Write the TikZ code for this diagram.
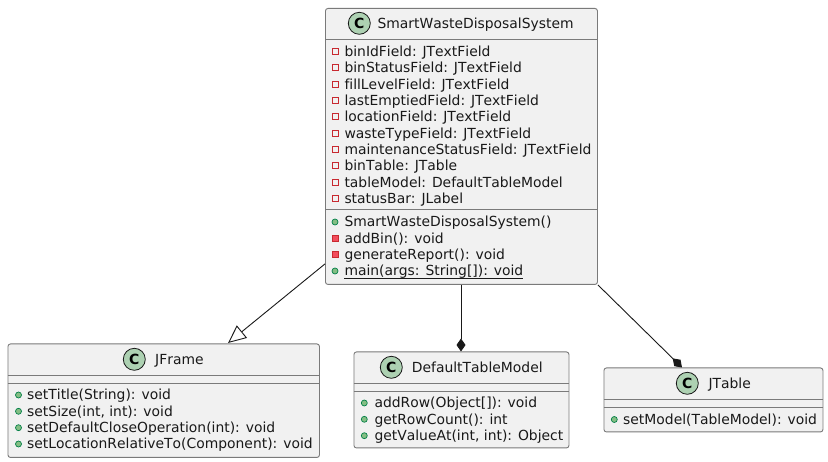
\documentclass[tikz,border=0pt]{standalone}
\usepackage{fontspec}
\setmainfont[Ligatures=NoCommon,Kerning=Off]{DejaVu Sans}
\usetikzlibrary{arrows.meta,calc}
\definecolor{boxfill}{HTML}{F1F1F1}
\definecolor{boxline}{HTML}{7A7A7A}
\definecolor{spotfill}{HTML}{ADD1B2}
\definecolor{pubfill}{HTML}{84BE84}
\definecolor{publine}{HTML}{038048}
\definecolor{privfill}{HTML}{F24D5C}
\definecolor{privline}{HTML}{C82930}
\tikzset{
  classbox/.style={draw=boxline,fill=boxfill,line width=0.9pt,rounded corners=2.5pt,inner sep=0pt,anchor=north west},
  sepline/.style={draw=boxline,line width=0.9pt},
  spot/.style={circle,draw=black!90,fill=spotfill,line width=0.8pt,minimum size=22pt,inner sep=0pt,font=\fontsize{14}{14}\selectfont\bfseries},
  titletext/.style={anchor=base west,inner sep=0pt,font=\fontsize{13.9}{16}\selectfont,text=black!90},
  membertext/.style={anchor=base west,inner sep=0pt,font=\fontsize{13.9}{16}\selectfont,text=black!90},
  pubmark/.style={circle,draw=publine,fill=pubfill,line width=0.7pt,minimum size=6pt,inner sep=0pt},
  fieldmark/.style={rectangle,draw=privline,fill=boxfill,line width=0.8pt,minimum size=6pt,inner sep=0pt},
  methodmark/.style={rectangle,draw=privline,fill=privfill,line width=0.8pt,minimum size=6pt,inner sep=0pt},
  conn/.style={draw=black!90,line width=0.9pt},
  inherit/.style={conn,-{Triangle[open,length=18pt,width=16pt,fill=white]}},
  compose/.style={conn,-{Diamond[fill=black!90,length=13pt,width=9pt]}}
}
% name, marker style, marker x, text x, baseline y, text
\newcommand{\memberrow}[6]{%
  \node[#2] (#1mark) at (#3,#5-5) {};
  \node[membertext] (#1) at (#4,#5) {#6};
}
\begin{document}
\begin{tikzpicture}[x=1pt,y=-1pt]
\useasboundingbox (0,0) rectangle (828,462);
\fill[white] (0,0) rectangle (828,462);

% SmartWasteDisposalSystem
\node[classbox,minimum width=272pt,minimum height=276pt] (swds) at (325,8) {};
\draw[sepline] (325,39.5) -- (597,39.5);
\draw[sepline] (325,209.5) -- (597,209.5);
\node[spot] (swdsC) at (359.3,23.3) {C};
\node[titletext] (swdsT) at (377.3,28.3) {SmartWasteDisposalSystem};
\memberrow{fa}{fieldmark}{335}{344.3}{56.5}{binIdField: JTextField}
\memberrow{fb}{fieldmark}{335}{344.3}{72.8}{binStatusField: JTextField}
\memberrow{fc}{fieldmark}{335}{344.3}{89.2}{fillLevelField: JTextField}
\memberrow{fd}{fieldmark}{335}{344.3}{105.5}{lastEmptiedField: JTextField}
\memberrow{fe}{fieldmark}{335}{344.3}{121.8}{locationField: JTextField}
\memberrow{ff}{fieldmark}{335}{344.3}{138.2}{wasteTypeField: JTextField}
\memberrow{fg}{fieldmark}{335}{344.3}{154.5}{maintenanceStatusField: JTextField}
\memberrow{fh}{fieldmark}{335}{344.3}{170.8}{binTable: JTable}
\memberrow{fi}{fieldmark}{335}{344.3}{187.2}{tableModel: DefaultTableModel}
\memberrow{fj}{fieldmark}{335}{344.3}{203.5}{statusBar: JLabel}
\memberrow{ma}{pubmark}{335}{344.3}{227}{SmartWasteDisposalSystem()}
\memberrow{mb}{methodmark}{335}{344.3}{243.3}{addBin(): void}
\memberrow{mc}{methodmark}{335}{344.3}{259.7}{generateReport(): void}
\memberrow{md}{pubmark}{335}{344.3}{276}{main(args: String[]): void}
\draw[black!90,line width=0.9pt] ($(md.base west)+(0,2.2)$) -- ($(md.base east)+(0,2.2)$);

% JFrame
\node[classbox,minimum width=311.5pt,minimum height=113.5pt] (jframe) at (7.5,343.5) {};
\draw[sepline] (7.5,375) -- (319,375);
\draw[sepline] (7.5,383) -- (319,383);
\node[spot] (jframeC) at (134.3,359.3) {C};
\node[titletext] (jframeT) at (155,364.7) {JFrame};
\memberrow{ja}{pubmark}{18.5}{27}{400}{setTitle(String): void}
\memberrow{jb}{pubmark}{18.5}{27}{416.3}{setSize(int, int): void}
\memberrow{jc}{pubmark}{18.5}{27}{432.7}{setDefaultCloseOperation(int): void}
\memberrow{jd}{pubmark}{18.5}{27}{449}{setLocationRelativeTo(Component): void}

% DefaultTableModel
\node[classbox,minimum width=215pt,minimum height=96pt] (dtm) at (353.5,351.5) {};
\draw[sepline] (353.5,383) -- (568.5,383);
\draw[sepline] (353.5,391) -- (568.5,391);
\node[spot] (dtmC) at (391.3,367.3) {C};
\node[titletext] (dtmT) at (411.7,372.3) {DefaultTableModel};
\memberrow{da}{pubmark}{364.3}{374.3}{408}{addRow(Object[]): void}
\memberrow{db}{pubmark}{364.3}{374.3}{424.3}{getRowCount(): int}
\memberrow{dc}{pubmark}{364.3}{374.3}{440.7}{getValueAt(int, int): Object}

% JTable
\node[classbox,minimum width=219pt,minimum height=64pt] (jtable) at (603.5,367.5) {};
\draw[sepline] (603.5,399) -- (822.5,399);
\draw[sepline] (603.5,407) -- (822.5,407);
\node[spot] (jtableC) at (687.3,383.3) {C};
\node[titletext] (jtableT) at (708.3,388.3) {JTable};
\memberrow{ta}{pubmark}{614.3}{623}{424.5}{setModel(TableModel): void}

% Connectors
\draw[inherit] ($(swds.south west)+(0,-21)$) -- ($(jframe.north west)+(220.5,-0.5)$);
\draw[compose] ($(swds.south west)+(136,0)$) -- ($(dtm.north west)+(107.5,0)$);
\draw[compose] (swds.south east) -- ($(jtable.north west)+(78.5,0)$);
\end{tikzpicture}
\end{document}
